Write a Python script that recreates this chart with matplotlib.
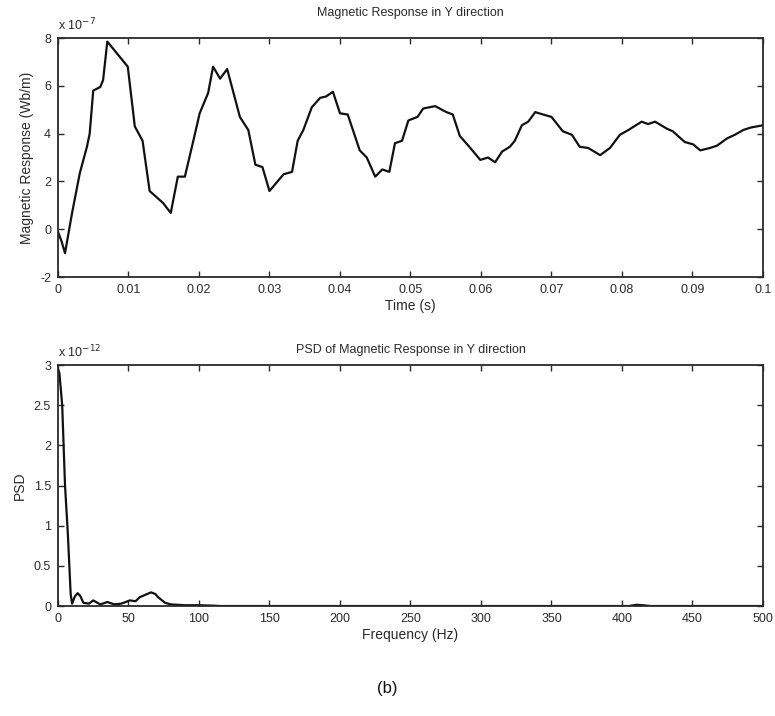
import numpy as np
import matplotlib
matplotlib.use("Agg")
import matplotlib.pyplot as plt

plt.rcParams['font.family'] = ['Liberation Sans', 'DejaVu Sans']
plt.rcParams['font.size'] = 9
plt.rcParams['axes.unicode_minus'] = False

# magnetic response in Y direction (x 1e-7 Wb/m)
time_s = [0.0, 0.0005, 0.001, 0.002, 0.0031, 0.0041, 0.0045, 0.005, 0.006, 0.0064,
          0.007, 0.0088, 0.0099, 0.0109, 0.012, 0.013, 0.0149, 0.016, 0.017, 0.018,
          0.0192, 0.0201, 0.0213, 0.022, 0.023, 0.024, 0.0258, 0.027, 0.028, 0.029,
          0.030, 0.032, 0.0332, 0.034, 0.0348, 0.036, 0.0372, 0.038, 0.039, 0.040,
          0.0411, 0.0428, 0.0438, 0.045, 0.046, 0.047, 0.0478, 0.0488, 0.0497, 0.051,
          0.0518, 0.0535, 0.0551, 0.056, 0.057, 0.0582, 0.0599, 0.061, 0.062, 0.063,
          0.0641, 0.0648, 0.0658, 0.0667, 0.0677, 0.0688, 0.070, 0.0716, 0.0729, 0.074,
          0.0752, 0.0769, 0.0783, 0.0797, 0.0809, 0.0828, 0.0837, 0.0847, 0.0864, 0.0872,
          0.0889, 0.0901, 0.0911, 0.0925, 0.0935, 0.0949, 0.096, 0.0972, 0.0982, 0.1]
response = [-0.1, -0.5, -1.0, 0.68, 2.35, 3.44, 4.0, 5.8, 5.95, 6.24,
            7.85, 7.2, 6.8, 4.3, 3.7, 1.6, 1.1, 0.68, 2.2, 2.2,
            3.7, 4.85, 5.7, 6.8, 6.3, 6.7, 4.7, 4.15, 2.7, 2.6,
            1.6, 2.3, 2.4, 3.7, 4.15, 5.1, 5.5, 5.55, 5.75, 4.85,
            4.8, 3.3, 3.0, 2.2, 2.5, 2.4, 3.6, 3.7, 4.55, 4.7,
            5.05, 5.15, 4.9, 4.8, 3.9, 3.5, 2.9, 3.0, 2.8, 3.25,
            3.45, 3.7, 4.35, 4.5, 4.9, 4.8, 4.7, 4.1, 3.95, 3.45,
            3.4, 3.1, 3.4, 3.95, 4.15, 4.5, 4.4, 4.5, 4.2, 4.1,
            3.65, 3.55, 3.3, 3.4, 3.5, 3.8, 3.95, 4.15, 4.25, 4.35]

# PSD of the response (x 1e-12)
freq_hz = [0, 1, 3, 5, 7, 9, 10, 12, 14, 16, 18, 22, 25, 30, 35, 40, 45, 51,
           55, 58, 62, 66, 69, 71, 76, 80, 90, 100, 110, 115, 405, 410, 415, 420, 500]
psd = [2.95, 2.9, 2.5, 1.5, 0.9, 0.15, 0.03, 0.12, 0.16, 0.12, 0.04, 0.03, 0.07,
       0.02, 0.05, 0.02, 0.03, 0.07, 0.06, 0.11, 0.14, 0.17, 0.15, 0.11, 0.04,
       0.02, 0.01, 0.01, 0.005, 0.0, 0.0, 0.015, 0.01, 0.0, 0.0]

ink = "#2a2a2a"

fig = plt.figure(figsize=(7.75, 7.16), dpi=100)
ax1 = fig.add_axes([0.0748, 0.6131, 0.9097, 0.3338])
ax2 = fig.add_axes([0.0748, 0.1536, 0.9097, 0.3366])

for ax in (ax1, ax2):
    ax.tick_params(direction="in", top=True, right=True, length=4, width=1,
                   colors=ink, labelsize=9, pad=5)
    for sp in ax.spines.values():
        sp.set_color(ink)
        sp.set_linewidth(1.3)

ax1.plot(time_s, response, color="#111111", lw=1.6)
ax1.set_xlim(0, 0.1)
ax1.set_ylim(-2, 8)
ax1.set_xticks(np.arange(0, 0.1001, 0.01))
ax1.set_xticklabels(["0", "0.01", "0.02", "0.03", "0.04", "0.05", "0.06",
                     "0.07", "0.08", "0.09", "0.1"])
ax1.set_yticks([-2, 0, 2, 4, 6, 8])
ax1.set_title("Magnetic Response in Y direction", fontsize=9, color=ink, pad=16)
ax1.set_xlabel("Time (s)", fontsize=10, color=ink, labelpad=2)
ax1.set_ylabel("Magnetic Response (Wb/m)", fontsize=10, color=ink, labelpad=4)
ax1.text(0.0, 1.02, r"x 10$^{-7}$", transform=ax1.transAxes, fontsize=9,
         color=ink, ha="left", va="bottom")

ax2.plot(freq_hz, psd, color="#111111", lw=1.6)
ax2.set_xlim(0, 500)
ax2.set_ylim(0, 3)
ax2.set_xticks(np.arange(0, 501, 50))
ax2.set_yticks([0, 0.5, 1, 1.5, 2, 2.5, 3])
ax2.set_yticklabels(["0", "0.5", "1", "1.5", "2", "2.5", "3"])
ax2.set_title("PSD of Magnetic Response in Y direction", fontsize=9, color=ink, pad=9)
ax2.set_xlabel("Frequency (Hz)", fontsize=10, color=ink, labelpad=2)
ax2.set_ylabel("PSD", fontsize=10, color=ink, labelpad=5)
ax2.text(0.0, 1.02, r"x 10$^{-12}$", transform=ax2.transAxes, fontsize=9,
         color=ink, ha="left", va="bottom")

fig.text(0.5, 0.039, "(b)", ha="center", va="center", fontsize=12, color="#111111")

fig.savefig("out.png", dpi=100)
